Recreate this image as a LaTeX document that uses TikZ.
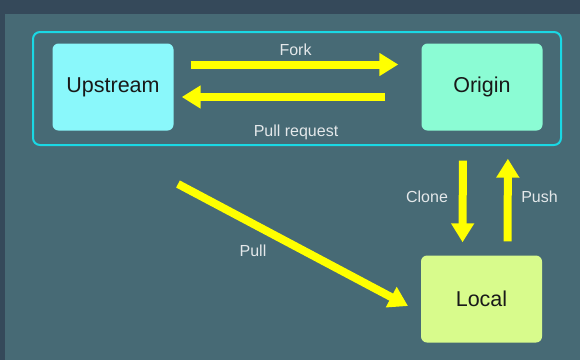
\documentclass[tikz,border=0pt]{standalone}
\usepackage{fontspec}
\setmainfont{Liberation Sans}
\usetikzlibrary{arrows.meta}

\definecolor{bgdark}{HTML}{35495A}
\definecolor{bgpanel}{HTML}{476A75}
\definecolor{framecyan}{HTML}{1AD8E4}
\definecolor{upfill}{HTML}{8AF8FB}
\definecolor{orfill}{HTML}{8BFCD4}
\definecolor{locfill}{HTML}{D8FB8C}
\definecolor{flowyellow}{HTML}{FFFF00}
\definecolor{labelgray}{HTML}{E4E8EA}

\tikzset{
  repo/.style={draw=none, rounded corners=6pt, minimum width=121pt,
    minimum height=87pt, inner sep=0pt, font=\fontsize{21.5}{24}\selectfont,
    text=black!90},
  flow/.style={draw=flowyellow, line width=8pt,
    -{Triangle[length=19pt,width=22pt]}},
  lbl/.style={anchor=base, text=labelgray, font=\fontsize{16}{18}\selectfont, inner sep=0pt}
}

\begin{document}
\begin{tikzpicture}[x=1pt, y=-1pt]
  % page and panel
  \fill[bgdark] (0,0) rectangle (580,360);
  \fill[bgpanel] (5,14) rectangle (580,360);
  \useasboundingbox (0,0) rectangle (580,360);

  % group frame around the two remote repositories
  \draw[framecyan, line width=2pt, rounded corners=7pt] (33,32) rectangle (561,145);

  % repositories
  \node[repo, fill=upfill]  (up)  at (113,87)  {Upstream};
  \node[repo, fill=orfill]  (ori) at (482,87)  {Origin};
  \node[repo, fill=locfill] (loc) at (481.5,299) {Local};

  % fork / pull request
  \draw[flow, shorten <=17pt, shorten >=23pt]
    ([yshift=22.5pt]up.east) -- ([yshift=22.5pt]ori.west);
  \draw[flow, shorten <=36pt, shorten >=8pt]
    ([yshift=-10pt]ori.west) -- ([yshift=-10pt]up.east);

  % clone / push
  \draw[flow, shorten <=30pt, shorten >=13pt]
    ([xshift=-19pt]ori.south) -- ([xshift=-19pt]loc.north);
  \draw[flow, shorten <=14pt, shorten >=28pt]
    ([xshift=26pt]loc.north) -- ([xshift=26pt]ori.south);

  % pull from upstream into local
  \coordinate (pullstart) at (178,184);
  \coordinate (pullend) at (408,306);
  \draw[flow] (pullstart) -- (pullend);

  % labels
  \node[lbl] (lfork)  at (295.5,55.7) {Fork};
  \node[lbl] (lpr)    at (296,136)    {Pull request};
  \node[lbl] (lclone) at (427,202)    {Clone};
  \node[lbl] (lpush)  at (539.5,202)  {Push};
  \node[lbl] (lpull)  at (253,256.5)  {Pull};
\end{tikzpicture}
\end{document}
